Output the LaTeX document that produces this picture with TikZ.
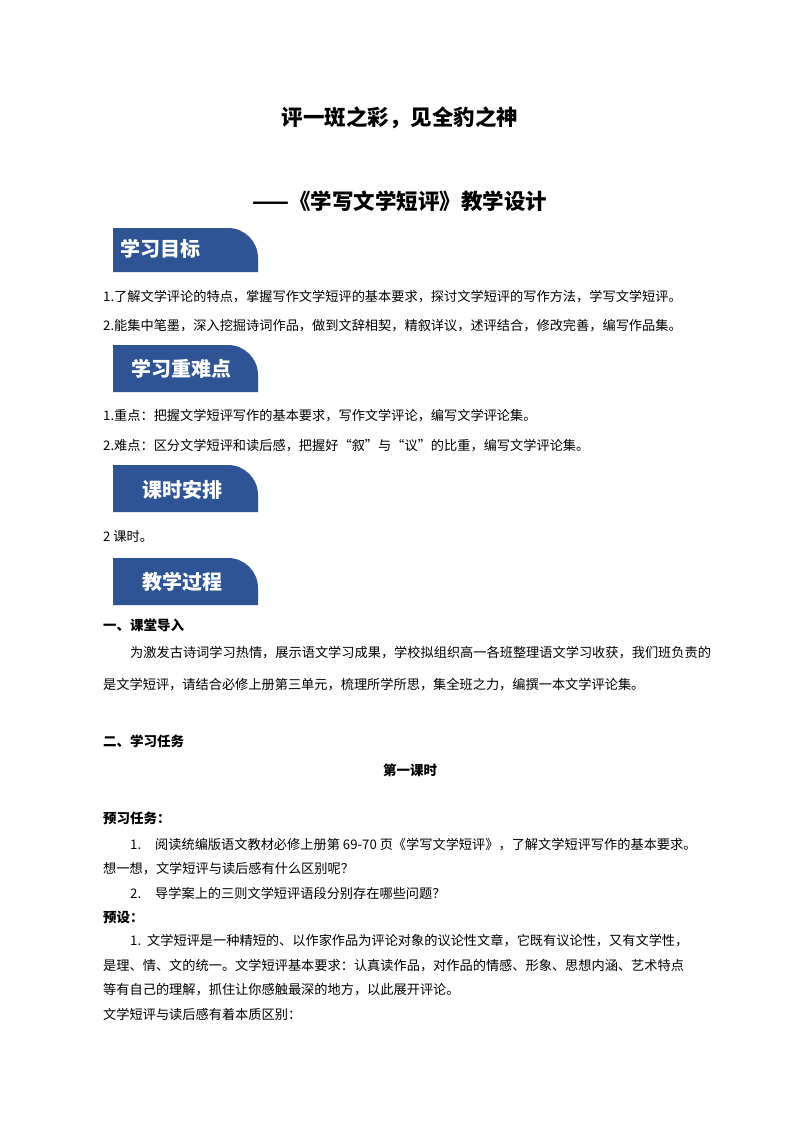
\documentclass[tikz,border=0pt]{standalone}
\usepackage{fontspec}
\setmainfont{Noto Sans CJK SC}
\definecolor{tabblue}{HTML}{2F5496}
\begin{document}
\begin{tikzpicture}[x=1pt,y=-1pt,
  txt/.style={anchor=west,inner sep=0pt,font=\fontsize{13.2}{16}\selectfont},
  bld/.style={anchor=west,inner sep=0pt,font=\fontsize{13.5}{16}\selectfont\bfseries},
  ttl/.style={inner sep=0pt,font=\fontsize{21.5}{24}\selectfont\bfseries},
  tabt/.style={anchor=west,inner sep=0pt,text=white,font=\fontsize{20}{22}\selectfont\bfseries}]
\useasboundingbox[fill=white] (0,0) rectangle (800,1132);
\newcommand\tabbox[2]{%
  \fill[tabblue] (113,#1) -- (228,#1) arc[start angle=-90,end angle=0,radius=30] -- (258,#2) -- (113,#2) -- cycle;}
\node[ttl] (t1) at (400,118) {评一斑之彩，见全豹之神};
\node[ttl] (t2) at (400,201) {——《学写文学短评》教学设计};
\tabbox{228}{272}
\node[tabt] (h1) at (120,249) {学习目标};
\node[txt] (a1) at (103,297) {1.了解文学评论的特点，掌握写作文学短评的基本要求，探讨文学短评的写作方法，学写文学短评。};
\node[txt] (a2) at (103,326) {2.能集中笔墨，深入挖掘诗词作品，做到文辞相契，精叙详议，述评结合，修改完善，编写作品集。};
\tabbox{345}{392}
\node[tabt] (h2) at (131,369) {学习重难点};
\node[txt] (b1) at (103,416) {1.重点：把握文学短评写作的基本要求，写作文学评论，编写文学评论集。};
\node[txt] (b2) at (103,446) {2.难点：区分文学短评和读后感，把握好“叙”与“议”的比重，编写文学评论集。};
\tabbox{465}{512}
\node[tabt] (h3) at (142,490) {课时安排};
\node[txt] (c1) at (103,537) {2 课时。};
\tabbox{558}{605}
\node[tabt] (h4) at (142,582) {教学过程};
\node[bld] (d0) at (103,625) {一、课堂导入};
\node[txt] (d1) at (130,653) {为激发古诗词学习热情，展示语文学习成果，学校拟组织高一各班整理语文学习收获，我们班负责的};
\node[txt] (d2) at (103,685) {是文学短评，请结合必修上册第三单元，梳理所学所思，集全班之力，编撰一本文学评论集。};
\node[bld] (e0) at (103,741) {二、学习任务};
\node[inner sep=0pt,font=\fontsize{13.5}{16}\selectfont\bfseries] (e1) at (410,770) {第一课时};
\node[bld] (f0) at (103,818) {预习任务：};
\node[txt] (f1) at (130,845) {1.\hspace{14pt}阅读统编版语文教材必修上册第 69-70 页《学写文学短评》，了解文学短评写作的基本要求。};
\node[txt] (f2) at (103,869) {想一想，文学短评与读后感有什么区别呢？};
\node[txt] (f3) at (130,893) {2.\hspace{14pt}导学案上的三则文学短评语段分别存在哪些问题？};
\node[bld] (g0) at (103,917) {预设：};
\node[txt] (g1) at (130,941) {1.\hspace{6pt}文学短评是一种精短的、以作家作品为评论对象的议论性文章，它既有议论性，又有文学性，};
\node[txt] (g2) at (103,966) {是理、情、文的统一。文学短评基本要求：认真读作品，对作品的情感、形象、思想内涵、艺术特点};
\node[txt] (g3) at (103,990) {等有自己的理解，抓住让你感触最深的地方，以此展开评论。};
\node[txt] (g4) at (103,1014) {文学短评与读后感有着本质区别：};
\end{tikzpicture}
\end{document}
